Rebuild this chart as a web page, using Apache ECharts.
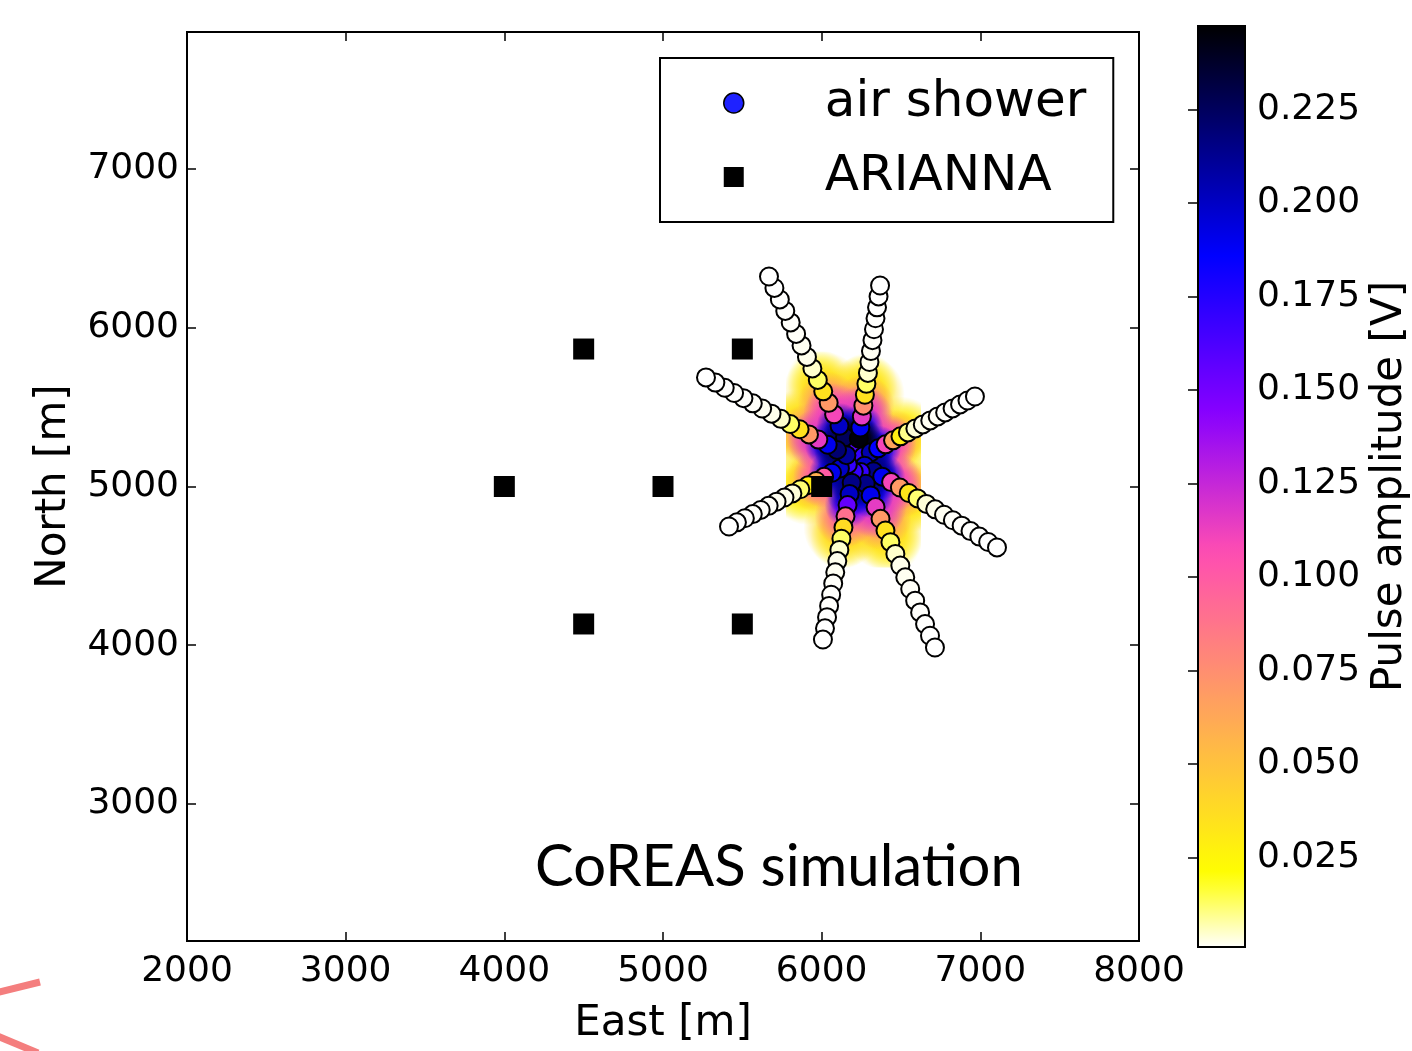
<!DOCTYPE html>
<html><head><meta charset="utf-8">
<script src="https://cdn.jsdelivr.net/npm/echarts@6/dist/echarts.min.js"></script>
<style>html,body{margin:0;padding:0;background:#fff}#c{width:1412px;height:1051px}</style>
</head><body><div id="c"></div>
<script>
// ---- data ----
const xTicks = [2000, 3000, 4000, 5000, 6000, 7000, 8000];
const yTicks = [3000, 4000, 5000, 6000, 7000];
const cbTicks = [0.025, 0.05, 0.075, 0.1, 0.125, 0.15, 0.175, 0.2, 0.225];
const ariannaX = [4500, 5500, 4000, 5000, 6000, 4500, 5500];
const ariannaY = [5866, 5866, 5000, 5000, 5000, 4134, 4134];
const showerCore = [6215, 5165];
const armEndX = [5668, 6368, 6966, 7105, 6714, 6008, 5416, 5271];
const armEndY = [6323, 6266, 5567, 4616, 3986, 4036, 4748, 5687];
const arm1Amp = [0.150, 0.225, 0.200, 0.110, 0.070, 0.035, 0.013, 0.005, 0.0025, 0.002, 0.0015, 0.0013, 0.0012, 0.0011, 0.001, 0.001];
const arm2Amp = [0.160, 0.245, 0.190, 0.115, 0.075, 0.035, 0.013, 0.005, 0.0025, 0.002, 0.0015, 0.0013, 0.0012, 0.0011, 0.001, 0.001];
const arm3Amp = [0.170, 0.205, 0.185, 0.110, 0.065, 0.030, 0.010, 0.004, 0.0025, 0.002, 0.0015, 0.0013, 0.0012, 0.0011, 0.001, 0.001];
const arm4Amp = [0.200, 0.215, 0.190, 0.110, 0.070, 0.033, 0.012, 0.004, 0.0025, 0.002, 0.0015, 0.0013, 0.0012, 0.0011, 0.001, 0.001];
const arm5Amp = [0.170, 0.215, 0.190, 0.115, 0.070, 0.035, 0.013, 0.005, 0.0025, 0.002, 0.0015, 0.0013, 0.0012, 0.0011, 0.001, 0.001];
const arm6Amp = [0.170, 0.215, 0.200, 0.155, 0.090, 0.038, 0.013, 0.005, 0.0025, 0.002, 0.0015, 0.0013, 0.0012, 0.0011, 0.001, 0.001];
const arm7Amp = [0.170, 0.200, 0.190, 0.100, 0.060, 0.030, 0.012, 0.004, 0.0025, 0.002, 0.0015, 0.0013, 0.0012, 0.0011, 0.001, 0.001];
const arm8Amp = [0.210, 0.220, 0.190, 0.115, 0.070, 0.035, 0.013, 0.005, 0.0025, 0.002, 0.0015, 0.0013, 0.0012, 0.0011, 0.001, 0.001];
const ampMin = 0.001, ampMax = 0.2473;
// extent of the interpolated amplitude map (data units)
const mapXRange = [5781, 6620];
const mapYRange = [4490, 5850];

// ---- layout ----
const G = { left: 187, top: 32, width: 952, height: 909 };
const X0 = 2000, X1 = 8000, Y0 = 2137, Y1 = 7863;
const px = x => G.left + (x - X0) / (X1 - X0) * G.width;
const py = y => G.top + (Y1 - y) / (Y1 - Y0) * G.height;

// ---- colormap (gnuplot2 reversed) ----
function clamp(v){ return Math.max(0, Math.min(1, v)); }
function gnuplot2(x){
  const r = clamp(x / 0.32 - 0.78125), g = clamp(2 * x - 0.84);
  let b;
  if (x < 0.25) b = 4 * x; else if (x < 0.42) b = 1; else if (x < 0.92) b = -2 * x + 1.84; else b = x / 0.08 - 11.5;
  b = clamp(b);
  return [r, g, b].map(v => Math.round(v * 255));
}
function cmapRGB(v){ return gnuplot2(1 - clamp((v - ampMin) / (ampMax - ampMin))); }
function rgba(c, a){ return 'rgba(' + c[0] + ',' + c[1] + ',' + c[2] + ',' + a + ')'; }
const NS = 48;
const mapColors = [], cbStops = [];
for (let i = 0; i <= NS; i++) {
  const v = ampMin + (ampMax - ampMin) * i / NS;
  const c = rgba(cmapRGB(v), 1);
  mapColors.push(c);
  cbStops.push({ offset: i / NS, color: c });
}

// ---- build shower points ----
const armAmps = [arm1Amp, arm2Amp, arm3Amp, arm4Amp, arm5Amp, arm6Amp, arm7Amp, arm8Amp];
const showerData = [];
armAmps.forEach((amps, a) => {
  const n = amps.length;
  amps.forEach((amp, k) => {
    const f = (k + 1) / n;
    showerData.push([
      showerCore[0] + (armEndX[a] - showerCore[0]) * f,
      showerCore[1] + (armEndY[a] - showerCore[1]) * f,
      amp
    ]);
  });
});
const glowData = showerData.filter(d => d[2] > 0.008).sort((p, q) => p[2] - q[2]);
const glowSize = a => a > 0.15 ? 46 : (a > 0.05 ? 62 : (a > 0.02 ? 80 : 62));
const ariannaData = ariannaX.map((x, i) => [x, ariannaY[i]]);

const FONT = 'DejaVu Sans';
const tickStyle = { color: '#000', width: 1.5 };
const plainNum = v => String(Math.round(v));
const chart = echarts.init(document.getElementById('c'), null, { renderer: 'canvas' });
chart.setOption({
  animation: false,
  backgroundColor: '#fff',
  textStyle: { fontFamily: FONT, color: '#000' },
  grid: [
    { left: G.left, top: G.top, width: G.width, height: G.height, show: true, borderColor: '#000', borderWidth: 2, backgroundColor: '#fff' },
    { left: 1198, top: 26, width: 47, height: 921, show: true, borderColor: '#000', borderWidth: 2,
      backgroundColor: { type: 'linear', x: 0, y: 1, x2: 0, y2: 0, colorStops: cbStops } },
    { left: px(mapXRange[0]), top: py(mapYRange[1]), width: px(mapXRange[1]) - px(mapXRange[0]),
      height: py(mapYRange[0]) - py(mapYRange[1]), show: false }
  ],
  xAxis: [
    { gridIndex: 0, type: 'value', min: X0, max: X1, interval: 1000, position: 'bottom',
      axisLine: { show: true, lineStyle: { color: '#000', width: 2 } },
      axisTick: { show: true, inside: true, length: 9, lineStyle: tickStyle, customValues: xTicks },
      axisLabel: { fontSize: 36, color: '#000', fontFamily: FONT, margin: 13, customValues: xTicks, formatter: plainNum },
      splitLine: { show: false },
      name: 'East [m]', nameLocation: 'middle', nameGap: 62,
      nameTextStyle: { fontSize: 42, color: '#000', fontFamily: FONT } },
    { gridIndex: 0, type: 'value', min: X0, max: X1, interval: 1000, position: 'top',
      axisLine: { show: true, lineStyle: { color: '#000', width: 2 } },
      axisTick: { show: true, inside: true, length: 9, lineStyle: tickStyle, customValues: xTicks },
      axisLabel: { show: false }, splitLine: { show: false } },
    { gridIndex: 1, type: 'value', min: 0, max: 1, show: false },
    { gridIndex: 2, type: 'value', min: mapXRange[0], max: mapXRange[1], show: false }
  ],
  yAxis: [
    { gridIndex: 0, type: 'value', min: Y0, max: Y1, position: 'left',
      axisLine: { show: true, lineStyle: { color: '#000', width: 2 } },
      axisTick: { show: true, inside: true, length: 9, lineStyle: tickStyle, customValues: yTicks },
      axisLabel: { fontSize: 36, color: '#000', fontFamily: FONT, margin: 8, customValues: yTicks, formatter: plainNum },
      splitLine: { show: false },
      name: 'North [m]', nameLocation: 'middle', nameGap: 112, nameRotate: 90,
      nameTextStyle: { fontSize: 42, color: '#000', fontFamily: FONT } },
    { gridIndex: 0, type: 'value', min: Y0, max: Y1, position: 'right',
      axisLine: { show: true, lineStyle: { color: '#000', width: 2 } },
      axisTick: { show: true, inside: true, length: 9, lineStyle: tickStyle, customValues: yTicks },
      axisLabel: { show: false }, splitLine: { show: false } },
    { gridIndex: 1, type: 'value', min: ampMin, max: ampMax, position: 'right',
      axisLine: { show: false },
      axisTick: { show: true, inside: true, length: 10, lineStyle: tickStyle, customValues: cbTicks },
      axisLabel: { fontSize: 36, color: '#000', fontFamily: FONT, margin: 12, customValues: cbTicks,
        formatter: v => Number(v).toFixed(3) },
      splitLine: { show: false },
      name: 'Pulse amplitude [V]', nameLocation: 'middle', nameGap: 124, nameRotate: 90,
      nameTextStyle: { fontSize: 42, color: '#000', fontFamily: FONT } },
    { gridIndex: 2, type: 'value', min: mapYRange[0], max: mapYRange[1], show: false }
  ],
  visualMap: [{ type: 'continuous', show: false, seriesIndex: 1, dimension: 2,
    min: ampMin, max: ampMax, inRange: { color: mapColors } }],
  legend: {
    show: true, orient: 'vertical', left: 660, top: 58, selectedMode: false,
    data: [
      { name: 'air shower', icon: 'circle', itemStyle: { color: '#1e22ff', borderColor: '#000', borderWidth: 1.5 } },
      { name: 'ARIANNA', icon: 'path://M0,0L10,0L10,10L0,10Z', itemStyle: { color: '#000' } }
    ],
    itemWidth: 20, itemHeight: 20, itemGap: 18, padding: [17, 27, 17, 63],
    borderColor: '#000', borderWidth: 2, borderRadius: 0, backgroundColor: '#fff',
    textStyle: { fontSize: 50, fontFamily: FONT, color: '#000', lineHeight: 56, padding: [0, 0, 0, 76] }
  },
  graphic: [
    { type: 'text', left: 535, top: 838, z: 100,
      style: { text: 'CoREAS simulation', font: '58px Lato', fill: '#000' } },
    { type: 'line', shape: { x1: 40, y1: 982, x2: -5, y2: 993 }, style: { stroke: '#f47e7e', lineWidth: 7 } },
    { type: 'line', shape: { x1: -5, y1: 1035, x2: 38, y2: 1053 }, style: { stroke: '#f47e7e', lineWidth: 7 } }
  ],
  series: [
    { name: 'glow', type: 'custom', xAxisIndex: 3, yAxisIndex: 3, silent: true, z: 1, clip: true,
      data: glowData,
      renderItem: (params, api) => {
        const p = api.coord([api.value(0), api.value(1)]);
        const a = api.value(2);
        const c = cmapRGB(a);
        const r = glowSize(a) / 2;
        return { type: 'circle', shape: { cx: p[0], cy: p[1], r: r },
          style: { fill: { type: 'radial', x: 0.5, y: 0.5, r: 0.5,
            colorStops: [{ offset: 0, color: rgba(c, 1) }, { offset: 0.5, color: rgba(c, 0.9) }, { offset: 1, color: rgba(c, 0) }] } } };
      } },
    { name: 'air shower', type: 'scatter', xAxisIndex: 0, yAxisIndex: 0, z: 3,
      symbol: 'circle', symbolSize: 18, data: showerData,
      itemStyle: { borderColor: '#000', borderWidth: 2, opacity: 1 } },
    { name: 'ARIANNA', type: 'scatter', xAxisIndex: 0, yAxisIndex: 0, z: 4,
      symbol: 'rect', symbolSize: 21, data: ariannaData, itemStyle: { color: '#000', opacity: 1 } }
  ]
});
</script></body></html>
